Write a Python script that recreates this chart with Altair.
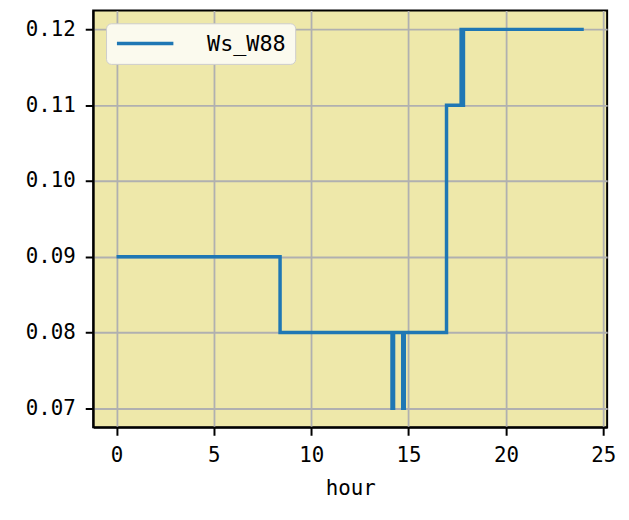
import altair as alt
import pandas as pd

# step series (hour, value); each value holds until the next hour
hours = [0.0, 8.4, 14.15, 14.23, 14.7, 14.78, 16.95, 17.7, 17.76, 17.82, 24.0]
values = [0.09, 0.08, 0.07, 0.08, 0.07, 0.08, 0.11, 0.12, 0.11, 0.12, 0.12]
series = ["Ws_W88"] * len(hours)

x_ticks = [0, 5, 10, 15, 20, 25]
y_ticks = [0.07, 0.08, 0.09, 0.10, 0.11, 0.12]

df = pd.DataFrame({"hour": hours, "value": values, "series": series})

FONT = "DejaVu Sans Mono"
FS = 21

chart = alt.Chart(df).mark_line(
    interpolate="step-after", strokeWidth=3.5, color="#1f77b4"
).encode(
    x=alt.X("hour:Q", title="hour",
            scale=alt.Scale(domain=[-1.2, 25.2], nice=False, zero=False),
            axis=alt.Axis(values=x_ticks, format="d", labelPadding=10, titlePadding=12)),
    y=alt.Y("value:Q", title=None,
            scale=alt.Scale(domain=[0.0675, 0.1225], nice=False, zero=False),
            axis=alt.Axis(values=y_ticks, format=".2f", labelPadding=10)),
    color=alt.Color("series:N", scale=alt.Scale(range=["#1f77b4"]),
                    legend=alt.Legend(title=None, orient="top-left",
                                      offset=13, padding=9,
                                      fillColor="#fbfaee", strokeColor="#cccccc",
                                      cornerRadius=5, symbolType="M-1,0H5",
                                      symbolSize=361, symbolStrokeWidth=3.5,
                                      labelOffset=70, labelFontSize=22,
                                      labelFont=FONT, labelColor="#000000")),
).properties(
    width=519, height=421, background="white",
    padding={"left": 17, "top": 0, "right": 5, "bottom": 5}
).configure_view(
    fill="#eee8aa", stroke="#000000", strokeWidth=2
).configure_axis(
    grid=True, gridColor="#b0b0b0", gridWidth=1.8,
    domainColor="#000000", domainWidth=2,
    tickColor="#000000", tickSize=8, tickWidth=2,
    labelFont=FONT, labelFontSize=FS, labelColor="#000000",
    titleFont=FONT, titleFontSize=FS, titleFontWeight="normal", titleColor="#000000"
)

chart.save("out.html", embed_options={"renderer": "svg", "actions": False})
